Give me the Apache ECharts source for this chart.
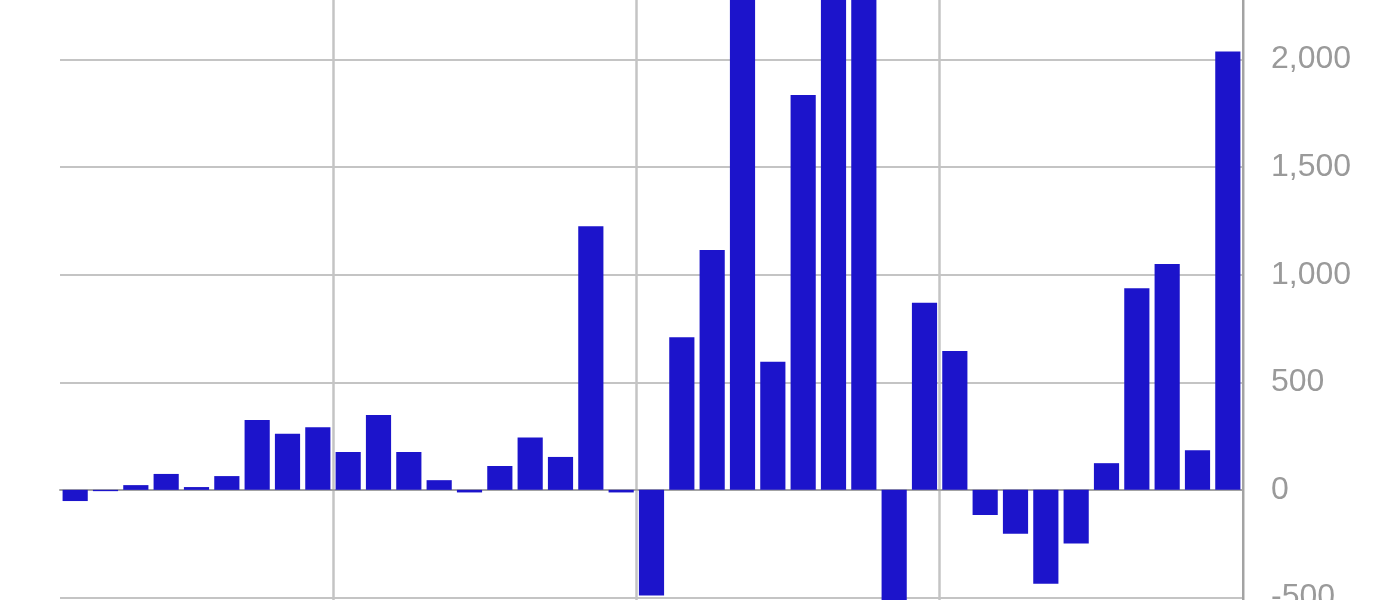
<!DOCTYPE html>
<html>
<head>
<meta charset="utf-8">
<title>bar chart</title>
<script src="https://cdn.jsdelivr.net/npm/echarts@6/dist/echarts.min.js"></script>
<style>
    html, body { margin: 0; padding: 0; background: #fff; }
    #chart { width: 1400px; height: 600px; }
</style>
</head>
<body>
<div id="chart"></div>
<script>
    // categories (no labels shown in the picture)
    var categories = [];
    for (var i = 1; i <= 39; i++) {
        categories.push(String(i));
    }

    // values; the clipped ones are guesses
    var values = [
        -52, -6, 22, 74, 13, 64, 325, 261, 291, 176,
        348, 176, 45, -12, 111, 243, 153, 1225, -12, -491,
        709, 1115, 2600, 595, 1835, 2500, 2700, -700, 870, 645,
        -117, -204, -436, -249, 124, 937, 1050, 184, 2037
    ];

    var yTicks = { min: -1000, max: 2500, step: 500 };

    var myChart = echarts.init(document.getElementById('chart'));

    var option = {
        animation: false,
        backgroundColor: '#ffffff',
        grid: {
            left: 60,
            right: 157,
            top: -48,
            bottom: -105,
            containLabel: false,
            outerBoundsMode: 'none'
        },
        xAxis: {
            type: 'category',
            data: categories,
            boundaryGap: true,
            axisLine: {
                show: true,
                onZero: true,
                lineStyle: { color: '#a3a3a3', width: 2 }
            },
            axisTick: { show: false },
            axisLabel: { show: false },
            splitLine: {
                show: true,
                // vertical lines every 10 bars
                interval: function (index) {
                    return index % 10 === 9;
                },
                lineStyle: { color: '#c4c4c4', width: 2.5 }
            }
        },
        yAxis: {
            type: 'value',
            position: 'right',
            min: yTicks.min,
            max: yTicks.max,
            interval: yTicks.step,
            axisLine: {
                show: true,
                lineStyle: { color: '#a3a3a3', width: 2 }
            },
            axisTick: { show: false },
            axisLabel: {
                color: '#9a9a9a',
                fontSize: 32,
                fontFamily: 'Arial, "Liberation Sans", sans-serif',
                margin: 28,
                formatter: function (v) {
                    return echarts.format.addCommas(v);
                }
            },
            splitLine: {
                show: true,
                lineStyle: { color: '#c4c4c4', width: 2 }
            }
        },
        series: [{
            type: 'bar',
            data: values,
            barCategoryGap: '17%',
            itemStyle: { color: '#1c14cb' }
        }]
    };

    myChart.setOption(option);
</script>
</body>
</html>
